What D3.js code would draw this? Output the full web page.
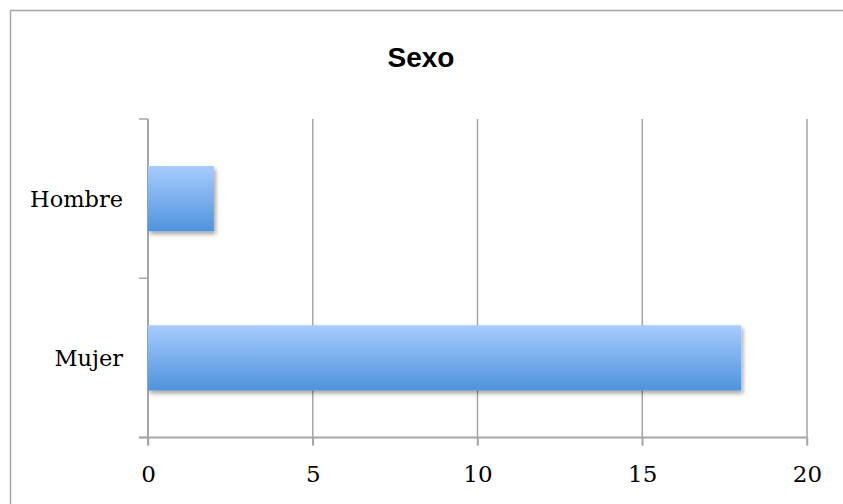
<!DOCTYPE html>
<html><head><meta charset="utf-8">
<script src="https://cdn.jsdelivr.net/npm/d3@7"></script>
<style>html,body{margin:0;padding:0;background:#fff;}svg{display:block;}</style>
</head><body>
<script>
const categories = ["Hombre", "Mujer"];
const values = [2, 18];
const xTicks = [0, 5, 10, 15, 20];
const title = "Sexo";

(function () {
const W = 843, H = 504;
const svg = d3.select("body").append("svg").attr("width", W).attr("height", H);

const defs = svg.append("defs");
const grad = defs.append("linearGradient").attr("id", "barGrad").attr("x1", 0).attr("y1", 0).attr("x2", 0).attr("y2", 1);
grad.append("stop").attr("offset", "0%").attr("stop-color", "#a8ccfe");
grad.append("stop").attr("offset", "100%").attr("stop-color", "#4e93dc");
const f = defs.append("filter").attr("id", "shadow").attr("x", "-10%").attr("y", "-20%").attr("width", "130%").attr("height", "160%");
f.append("feDropShadow").attr("dx", 2).attr("dy", 3).attr("stdDeviation", 2).attr("flood-color", "#000").attr("flood-opacity", 0.35);

// outer border
svg.append("rect").attr("x", 10.5).attr("y", 10.5).attr("width", W).attr("height", H)
  .attr("fill", "none").attr("stroke", "#a6a6a6").attr("stroke-width", 1.5);

const mLeft = 148, mRight = 807, mTop = 119, mBottom = 437.5;
const x = d3.scaleLinear().domain([0, 20]).range([mLeft, mRight]);
const y = d3.scaleBand().domain(categories).range([mTop, mBottom]).paddingInner(0.59).paddingOuter(0.295);

// title
svg.append("text").attr("x", 421).attr("y", 67).attr("text-anchor", "middle")
  .attr("font-family", "Liberation Sans, Arial, sans-serif").attr("font-weight", "bold")
  .attr("font-size", 28).text(title);

// gridlines
svg.append("g").selectAll("line").data(xTicks.filter(d => d > 0)).join("line")
  .attr("x1", d => x(d)).attr("x2", d => x(d)).attr("y1", mTop).attr("y2", mBottom + 8)
  .attr("stroke", "#a6a6a6").attr("stroke-width", 1.5);

// x axis
const xAxis = d3.axisBottom(x).tickValues(xTicks).tickSize(8).tickPadding(20).tickSizeOuter(0);
const gx = svg.append("g").attr("transform", `translate(0,${mBottom})`).call(xAxis);
gx.select(".domain").remove();
gx.append("line").attr("x1", mLeft - 9).attr("x2", mRight).attr("y1", 0).attr("y2", 0)
  .attr("stroke", "#a6a6a6").attr("stroke-width", 2);
gx.selectAll(".tick line").attr("stroke", "#a6a6a6").attr("stroke-width", 1.5);
gx.selectAll(".tick text").attr("font-family", "DejaVu Serif, serif").attr("font-size", 23).attr("fill", "#000");

// y axis
const step = y.step();
const boundaries = d3.range(categories.length + 1).map(i => mTop + i * step);
const gy = svg.append("g");
gy.append("line").attr("x1", mLeft).attr("x2", mLeft).attr("y1", mTop).attr("y2", mBottom + 8)
  .attr("stroke", "#a6a6a6").attr("stroke-width", 2);
gy.selectAll("line.tk").data(boundaries).join("line").attr("class", "tk")
  .attr("x1", mLeft - 9).attr("x2", mLeft).attr("y1", d => d).attr("y2", d => d)
  .attr("stroke", "#a6a6a6").attr("stroke-width", 1.5);
gy.selectAll("text").data(categories).join("text")
  .attr("x", 123).attr("y", d => y(d) + y.bandwidth() / 2).attr("dy", "0.35em")
  .attr("text-anchor", "end").attr("font-family", "DejaVu Serif, serif").attr("font-size", 22.5)
  .text(d => d);

// bars
svg.append("g").selectAll("rect").data(categories).join("rect")
  .attr("x", x(0)).attr("y", d => y(d))
  .attr("width", (d, i) => x(values[i]) - x(0)).attr("height", y.bandwidth())
  .attr("fill", "url(#barGrad)").attr("filter", "url(#shadow)");
})();
</script>
</body></html>
